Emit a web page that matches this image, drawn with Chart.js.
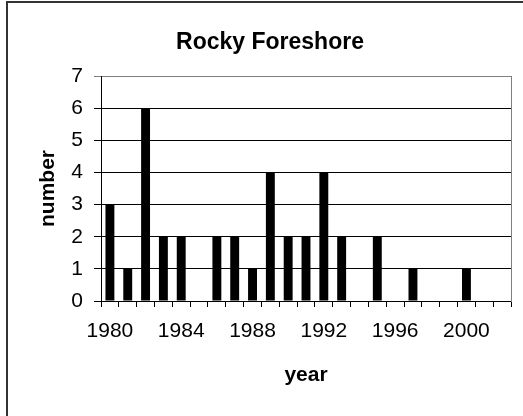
<!DOCTYPE html>
<html>
<head>
<meta charset="utf-8">
<script src="https://cdn.jsdelivr.net/npm/chart.js@4/dist/chart.umd.min.js"></script>
<style>
  html, body { margin: 0; padding: 0; background: #fff; overflow: hidden; width: 523px; height: 416px; }
  #frame { position: absolute; left: 6px; top: 1px; width: 600px; height: 500px; border-left: 2px solid #333; border-top: 2px solid #333; }
  #wrap { position: absolute; left: 0; top: 0; width: 523px; height: 416px; }
</style>
</head>
<body>
<div id="frame"></div>
<div id="wrap"><canvas id="c" width="523" height="416"></canvas></div>
<script>
const titleText = "Rocky Foreshore";
const xTitle = "year";
const yTitle = "number";
const years = ["1980","1981","1982","1983","1984","1985","1986","1987","1988","1989","1990","1991","1992","1993","1994","1995","1996","1997","1998","1999","2000","2001","2002"];
const counts = [3, 1, 6, 2, 2, null, 2, 2, 1, 4, 2, 2, 4, 2, null, 2, null, 1, null, null, 1, null, null];
const labeledYears = ["1980","1984","1988","1992","1996","2000"];
const yTicks = [0, 1, 2, 3, 4, 5, 6, 7];

const FONT = "'Liberation Sans', Arial, sans-serif";

const frameRight = {
  id: 'frameRight',
  afterDatasetsDraw(chart) {
    const a = chart.chartArea, ctx = chart.ctx;
    ctx.save();
    ctx.strokeStyle = '#808080';
    ctx.lineWidth = 1;
    ctx.beginPath();
    const x = Math.round(a.right) + 0.5;
    ctx.moveTo(x, Math.round(a.top));
    ctx.lineTo(x, Math.round(a.bottom) + 1);
    ctx.stroke();
    ctx.restore();
  }
};

new Chart(document.getElementById('c'), {
  type: 'bar',
  data: {
    labels: years,
    datasets: [{
      data: counts,
      backgroundColor: '#000',
      borderWidth: 0,
      categoryPercentage: 0.5,
      barPercentage: 1.0
    }]
  },
  options: {
    responsive: false,
    animation: false,
    devicePixelRatio: 1,
    layout: { padding: { left: 29, right: 12, top: 0, bottom: 0 } },
    plugins: {
      legend: { display: false },
      tooltip: { enabled: false },
      title: {
        display: true,
        text: titleText,
        color: '#000',
        font: { family: FONT, size: 23, weight: 'bold' },
        padding: { top: 29, bottom: 19.4 }
      }
    },
    scales: {
      x: {
        type: 'category',
        offset: true,
        afterFit(s) { s.height = 115; },
        grid: { display: true, offset: true, drawOnChartArea: false, drawTicks: true, tickLength: 6, color: '#000', lineWidth: 1 },
        border: { display: true, color: '#000', width: 1 },
        ticks: {
          autoSkip: false,
          maxRotation: 0,
          minRotation: 0,
          padding: 12,
          color: '#000',
          font: { family: FONT, size: 21 },
          callback(v) { const l = this.getLabelForValue(v); return labeledYears.includes(l) ? l : ''; }
        },
        title: { display: true, text: xTitle, color: '#000', font: { family: FONT, size: 21, weight: 'bold' }, padding: { top: 0, bottom: 28 } }
      },
      y: {
        min: 0,
        max: 7,
        afterFit(s) { s.width = 72; },
        afterBuildTicks(s) { s.ticks = yTicks.map(v => ({ value: v })); },
        grid: {
          drawTicks: true,
          tickLength: 7,
          lineWidth: 1,
          color(ctx) { return ctx.tick && ctx.tick.value === 7 ? '#808080' : '#000'; }
        },
        border: { display: true, color: '#000', width: 1 },
        ticks: { stepSize: 1, padding: 11, color: '#000', font: { family: FONT, size: 21 } },
        title: { display: true, text: yTitle, color: '#000', font: { family: FONT, size: 21, weight: 'bold' }, padding: { top: 7, bottom: 0 } }
      }
    }
  },
  plugins: [frameRight]
});
</script>
</body>
</html>
